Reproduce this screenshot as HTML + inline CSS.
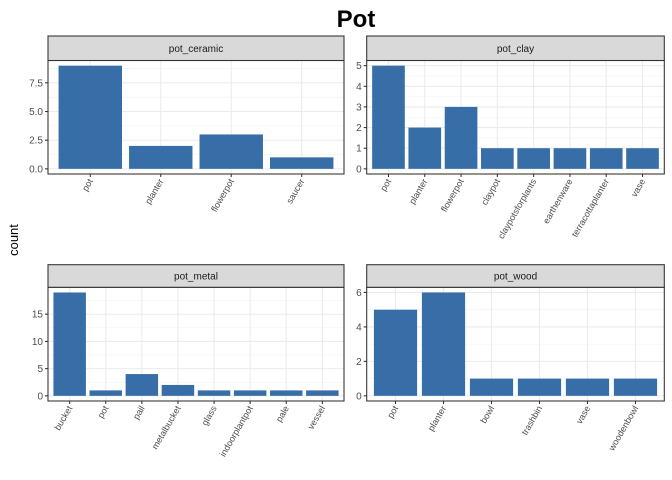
<!DOCTYPE html>
<html><head><meta charset="utf-8"><style>
body{margin:0;background:#fff}
svg{display:block;font-family:"Liberation Sans",sans-serif}
</style></head><body>
<svg id="c" width="672" height="480" viewBox="0 0 672 480">
<text x="356" y="27" text-anchor="middle" font-size="24" font-weight="bold" fill="#000">Pot</text>
<text transform="translate(18,240) rotate(-90)" text-anchor="middle" font-size="13" fill="#000">count</text>
</svg>
<script>
const ceramicCats=["pot","planter","flowerpot","saucer"];
const ceramicVals=[9,2,3,1];
const ceramicTicks=[0,2.5,5,7.5];
const ceramicTickLabels=["0.0","2.5","5.0","7.5"];
const clayCats=["pot","planter","flowerpot","claypot","claypotsforplants","earthenware","terracottaplanter","vase"];
const clayVals=[5,2,3,1,1,1,1,1];
const clayTicks=[0,1,2,3,4,5];
const metalCats=["bucket","pot","pail","metalbucket","glass","indoorplantpot","pale","vessel"];
const metalVals=[19,1,4,2,1,1,1,1];
const metalTicks=[0,5,10,15];
const woodCats=["pot","planter","bowl","trashbin","vase","woodenbowl"];
const woodVals=[5,6,1,1,1,1];
const woodTicks=[0,2,4,6];

const svg=document.getElementById('c');
const NS='http://www.w3.org/2000/svg';
function mk(tag,attrs,parent){const e=document.createElementNS(NS,tag);for(const k in attrs)e.setAttribute(k,attrs[k]);(parent||svg).appendChild(e);return e;}

function panel(name,cats,vals,ticks,labels,x0,x1,stripTop,y0,y1){
  const g=mk('g',{});
  
  
  const maxV=Math.max(...vals);
  const lo=-0.05*maxV, hi=maxV*1.05;
  const ys=v=>y1-(v-lo)/(hi-lo)*(y1-y0);
  const n=cats.length, step=(x1-x0)/(n+0.2);
  const xs=i=>x0+step*(0.6+i);
  mk('rect',{x:x0,y:y0,width:x1-x0,height:y1-y0,fill:'#fff'},g);
  // minor grid
  const dt=ticks[1]-ticks[0];
  for(let t=ticks[0]-dt/2;t<=hi;t+=dt){ if(t<lo)continue; mk('line',{x1:x0,x2:x1,y1:ys(t),y2:ys(t),stroke:'#f0f0f0','stroke-width':0.55},g);}
  ticks.forEach(t=>mk('line',{x1:x0,x2:x1,y1:ys(t),y2:ys(t),stroke:'#ebebeb','stroke-width':1.07},g));
  cats.forEach((c,i)=>mk('line',{x1:xs(i),x2:xs(i),y1:y0,y2:y1,stroke:'#ebebeb','stroke-width':1.07},g));
  vals.forEach((v,i)=>{
    const r=mk('rect',{x:xs(i)-step*0.45,y:ys(v),width:step*0.9,height:ys(0)-ys(v),fill:'#386ea8'},g);
    
    
  });
  mk('rect',{x:x0,y:y0,width:x1-x0,height:y1-y0,fill:'none',stroke:'#333','stroke-width':1.07},g);
  const s=mk('rect',{x:x0,y:stripTop,width:x1-x0,height:y0-stripTop,fill:'#d9d9d9',stroke:'#333','stroke-width':1.07},g);
  
  
  const st=mk('text',{x:(x0+x1)/2,y:(stripTop+y0)/2+3.5,'text-anchor':'middle','font-size':10,fill:'#1a1a1a'},g);
  st.textContent=name;
  ticks.forEach((t,i)=>{
    mk('line',{x1:x0-3,x2:x0,y1:ys(t),y2:ys(t),stroke:'#333','stroke-width':1.07},g);
    const tx=mk('text',{x:x0-5,y:ys(t)+3.5,'text-anchor':'end','font-size':10,fill:'#4d4d4d'},g);
    
    
    tx.textContent=labels?labels[i]:String(t);
  });
  cats.forEach((c,i)=>{
    mk('line',{x1:xs(i),x2:xs(i),y1:y1,y2:y1+3,stroke:'#333','stroke-width':1.07},g);
    const tx=mk('text',{transform:`translate(${xs(i)+3},${y1+7}) rotate(-60)`,'text-anchor':'end','font-size':9,fill:'#4d4d4d'},g);
    
    
    tx.textContent=c;
  });
}
panel('pot_ceramic',ceramicCats,ceramicVals,ceramicTicks,ceramicTickLabels,48,344,36,60.5,174);
panel('pot_clay',clayCats,clayVals,clayTicks,null,366.7,664.3,36,60.5,174);
panel('pot_metal',metalCats,metalVals,metalTicks,null,48,344,264.7,287.3,401);
panel('pot_wood',woodCats,woodVals,woodTicks,null,366.7,664.3,264.7,287.3,401);
</script>
</body></html>
